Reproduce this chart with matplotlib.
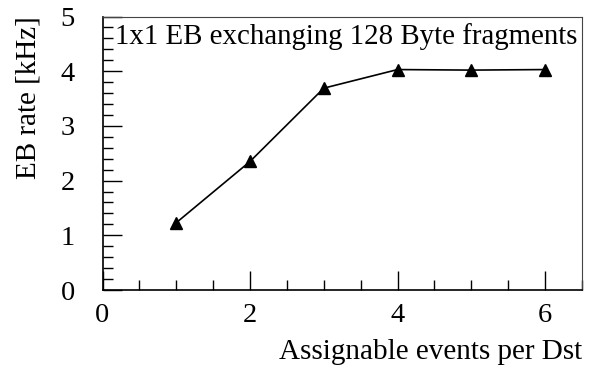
import matplotlib.pyplot as plt
from matplotlib.ticker import MultipleLocator

plt.rcParams['font.family'] = ['Liberation Serif', 'DejaVu Serif']

# Event builder rate vs. number of assignable events per destination
events_per_dst = [1, 2, 3, 4, 5, 6]
eb_rate_khz = [1.23, 2.35, 3.69, 4.03, 4.02, 4.03]

fig = plt.figure(figsize=(5.92, 3.70), dpi=100)
ax = fig.add_axes([102.5 / 592, 1 - 290 / 370, (582 - 102.5) / 592, (290 - 16.5) / 370])

ax.plot(events_per_dst, eb_rate_khz, color='black', lw=1.2,
        marker='^', markersize=8)

ax.set_xlim(0, 6.5)
ax.set_ylim(0, 5)
ax.xaxis.set_major_locator(MultipleLocator(2))
ax.xaxis.set_minor_locator(MultipleLocator(0.5))
ax.yaxis.set_major_locator(MultipleLocator(1))
ax.yaxis.set_minor_locator(MultipleLocator(0.2))
ax.tick_params(which='both', direction='in', top=False, right=False,
               labelsize=20.5, width=1)
ax.tick_params(which='major', length=14)
ax.tick_params(which='minor', length=7)
ax.tick_params(axis='x', pad=9)
ax.tick_params(axis='y', pad=20)

for side in ['left', 'bottom']:
    ax.spines[side].set_linewidth(1.2)
for side in ['top', 'right']:
    ax.spines[side].set_linewidth(0.8)
    ax.spines[side].set_color('#444444')

ax.text(0.027, 0.975, '1x1 EB exchanging 128 Byte fragments', transform=ax.transAxes,
        fontsize=20.8, ha='left', va='top')

ax.set_xlabel('Assignable events per Dst', fontsize=21, ha='right', x=1.0, labelpad=8)
ax.set_ylabel('EB rate [kHz]', fontsize=21, ha='right', y=1.0, labelpad=14)

fig.savefig('out.png', dpi=100)
